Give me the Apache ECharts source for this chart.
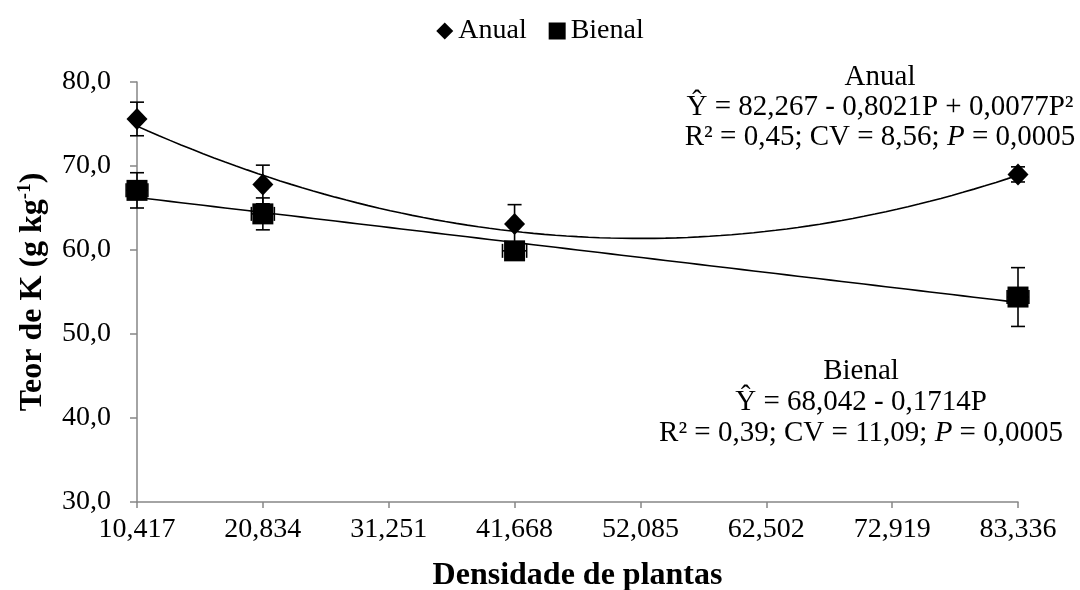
<!DOCTYPE html>
<html>
<head>
<meta charset="utf-8">
<script src="https://cdn.jsdelivr.net/npm/echarts@6/dist/echarts.min.js"></script>
<style>
html,body{margin:0;padding:0;background:#fff;}
#chart{width:1080px;height:590px;}
</style>
</head>
<body>
<div id="chart"></div>
<script>
// ---- data ----
var densities = [10.417, 20.834, 41.668, 83.336];
var xTicks = [10.417, 20.834, 31.251, 41.668, 52.085, 62.502, 72.919, 83.336];
var yTicks = [30, 40, 50, 60, 70, 80];
var anualValues = [75.6, 67.8, 63.1, 69.0];
var anualErrY = [2.0, 2.3, 2.3, 0.9];
var bienalValues = [67.1, 64.3, 59.9, 54.4];
var bienalErrY = [2.1, 1.9, 0.6, 3.5];
var bienalErrX = [0.9, 0.95, 1.0, 0.9];
// regression coefficients printed in the chart: a + bP + cP^2
var anualCoef = [82.267, -0.8021, 0.0077];
var bienalCoef = [68.042, -0.1714, 0];
var anualLines = ['Anual', 'Ŷ = 82,267 - 0,8021P + 0,0077P²', 'R² = 0,45; CV = 8,56; {i|P} = 0,0005'];
var bienalLines = ['Bienal', 'Ŷ = 68,042 - 0,1714P', 'R² = 0,39; CV = 11,09; {i|P} = 0,0005'];

function fmt(v, d){ return v.toFixed(d).replace('.', ','); }
function curve(coef){
  var pts = [];
  var x0 = xTicks[0], x1 = xTicks[xTicks.length-1];
  var n = 80;
  for (var i = 0; i <= n; i++){
    var p = x0 + (x1 - x0) * i / n;
    pts.push([p, coef[0] + coef[1]*p + coef[2]*p*p]);
  }
  return pts;
}
function pairs(xs, ys){ return xs.map(function(x,i){ return [x, ys[i]]; }); }

var errData = [];
densities.forEach(function(x,i){
  errData.push([x, anualValues[i], anualErrY[i], 0]);
  errData.push([x, bienalValues[i], bienalErrY[i], bienalErrX[i]]);
});

var FONT = '"Liberation Serif", "Times New Roman", serif';
var LBL = 28, ANN = 29, TTL = 32;

function annot(lines, cx, y0, dy){
  return lines.map(function(t, k){
    return {
      type: 'text', x: cx, y: y0 + k*dy, silent: true,
      style: {
        text: t, align: 'center', verticalAlign: 'middle',
        fontFamily: FONT, fontSize: ANN, fill: '#000',
        rich: { i: { fontFamily: FONT, fontSize: ANN, fontStyle: 'italic', fill: '#000' } }
      }
    };
  });
}

var chart = echarts.init(document.getElementById('chart'));
chart.setOption({
  animation: false,
  textStyle: { fontFamily: FONT, color: '#000' },
  legend: {
    top: 12, left: 'center',
    data: [{name:'Anual', icon:'diamond'}, {name:'Bienal', icon:'rect'}],
    itemWidth: 17, itemHeight: 17, itemGap: 22,
    textStyle: { fontFamily: FONT, fontSize: LBL, color: '#000' }
  },
  grid: { left: 137, right: 62, top: 82, bottom: 88, containLabel: false, outerBoundsMode: 'none' },
  xAxis: {
    type: 'value', min: xTicks[0], max: xTicks[xTicks.length-1], interval: xTicks[0],
    name: 'Densidade de plantas', nameLocation: 'middle', nameGap: 58,
    nameTextStyle: { fontFamily: FONT, fontSize: TTL, fontWeight: 'bold', color: '#000' },
    axisLine: { lineStyle: { color: '#868686', width: 1.5 } },
    axisTick: { show: true, length: 6, lineStyle: { color: '#868686', width: 1.5 }, customValues: xTicks },
    axisLabel: { fontFamily: FONT, fontSize: LBL, color: '#000', margin: 14, customValues: xTicks,
      formatter: function(v){ return fmt(v, 3); } },
    splitLine: { show: false }
  },
  yAxis: {
    type: 'value', min: yTicks[0], max: yTicks[yTicks.length-1], interval: 10,
    name: 'Teor de K (g kg{sup|-1})', nameLocation: 'middle', nameGap: 88, nameRotate: 90,
    nameTextStyle: { fontFamily: FONT, fontSize: TTL, fontWeight: 'bold', color: '#000',
      rich: { sup: { fontFamily: FONT, fontSize: 19, fontWeight: 'bold', color: '#000', verticalAlign: 'top', padding: [0,0,14,0] } } },
    axisLine: { show: true, lineStyle: { color: '#868686', width: 1.5 } },
    axisTick: { show: true, length: 7, lineStyle: { color: '#868686', width: 1.5 } },
    axisLabel: { fontFamily: FONT, fontSize: LBL, color: '#000', margin: 26,
      formatter: function(v){ return fmt(v, 1); } },
    splitLine: { show: false }
  },
  series: [
    {
      name: 'trendAnual', type: 'line', data: curve(anualCoef), showSymbol: false, symbol: 'none',
      lineStyle: { color: '#000', width: 1.6 }, z: 2, silent: true
    },
    {
      name: 'trendBienal', type: 'line', data: curve(bienalCoef), showSymbol: false, symbol: 'none',
      lineStyle: { color: '#000', width: 1.6 }, z: 2, silent: true
    },
    {
      name: 'err', type: 'custom', data: errData, z: 3, silent: true,
      renderItem: function(params, api){
        var x = api.value(0), y = api.value(1), ey = api.value(2), ex = api.value(3);
        var children = [];
        var st = { stroke: '#000', lineWidth: 1.6 };
        var cap = 7;
        if (ey > 0){
          var top = api.coord([x, y + ey]), bot = api.coord([x, y - ey]);
          children.push({ type:'line', shape:{x1:top[0],y1:top[1],x2:bot[0],y2:bot[1]}, style: st });
          children.push({ type:'line', shape:{x1:top[0]-cap,y1:top[1],x2:top[0]+cap,y2:top[1]}, style: st });
          children.push({ type:'line', shape:{x1:bot[0]-cap,y1:bot[1],x2:bot[0]+cap,y2:bot[1]}, style: st });
        }
        if (ex > 0){
          var l = api.coord([x - ex, y]), r = api.coord([x + ex, y]);
          children.push({ type:'line', shape:{x1:l[0],y1:l[1],x2:r[0],y2:r[1]}, style: st });
          children.push({ type:'line', shape:{x1:l[0],y1:l[1]-cap,x2:l[0],y2:l[1]+cap}, style: st });
          children.push({ type:'line', shape:{x1:r[0],y1:r[1]-cap,x2:r[0],y2:r[1]+cap}, style: st });
        }
        return { type:'group', children: children };
      }
    },
    {
      name: 'Anual', type: 'scatter', data: pairs(densities, anualValues), symbol: 'diamond',
      symbolSize: [21, 22], itemStyle: { color: '#000', opacity: 1 }, z: 4
    },
    {
      name: 'Bienal', type: 'scatter', data: pairs(densities, bienalValues), symbol: 'rect',
      symbolSize: 21, itemStyle: { color: '#000', opacity: 1, borderRadius: 2 }, z: 5
    }
  ],
  graphic: annot(anualLines, 880, 77, 30).concat(annot(bienalLines, 861, 371, 31))
});
</script>
</body>
</html>
